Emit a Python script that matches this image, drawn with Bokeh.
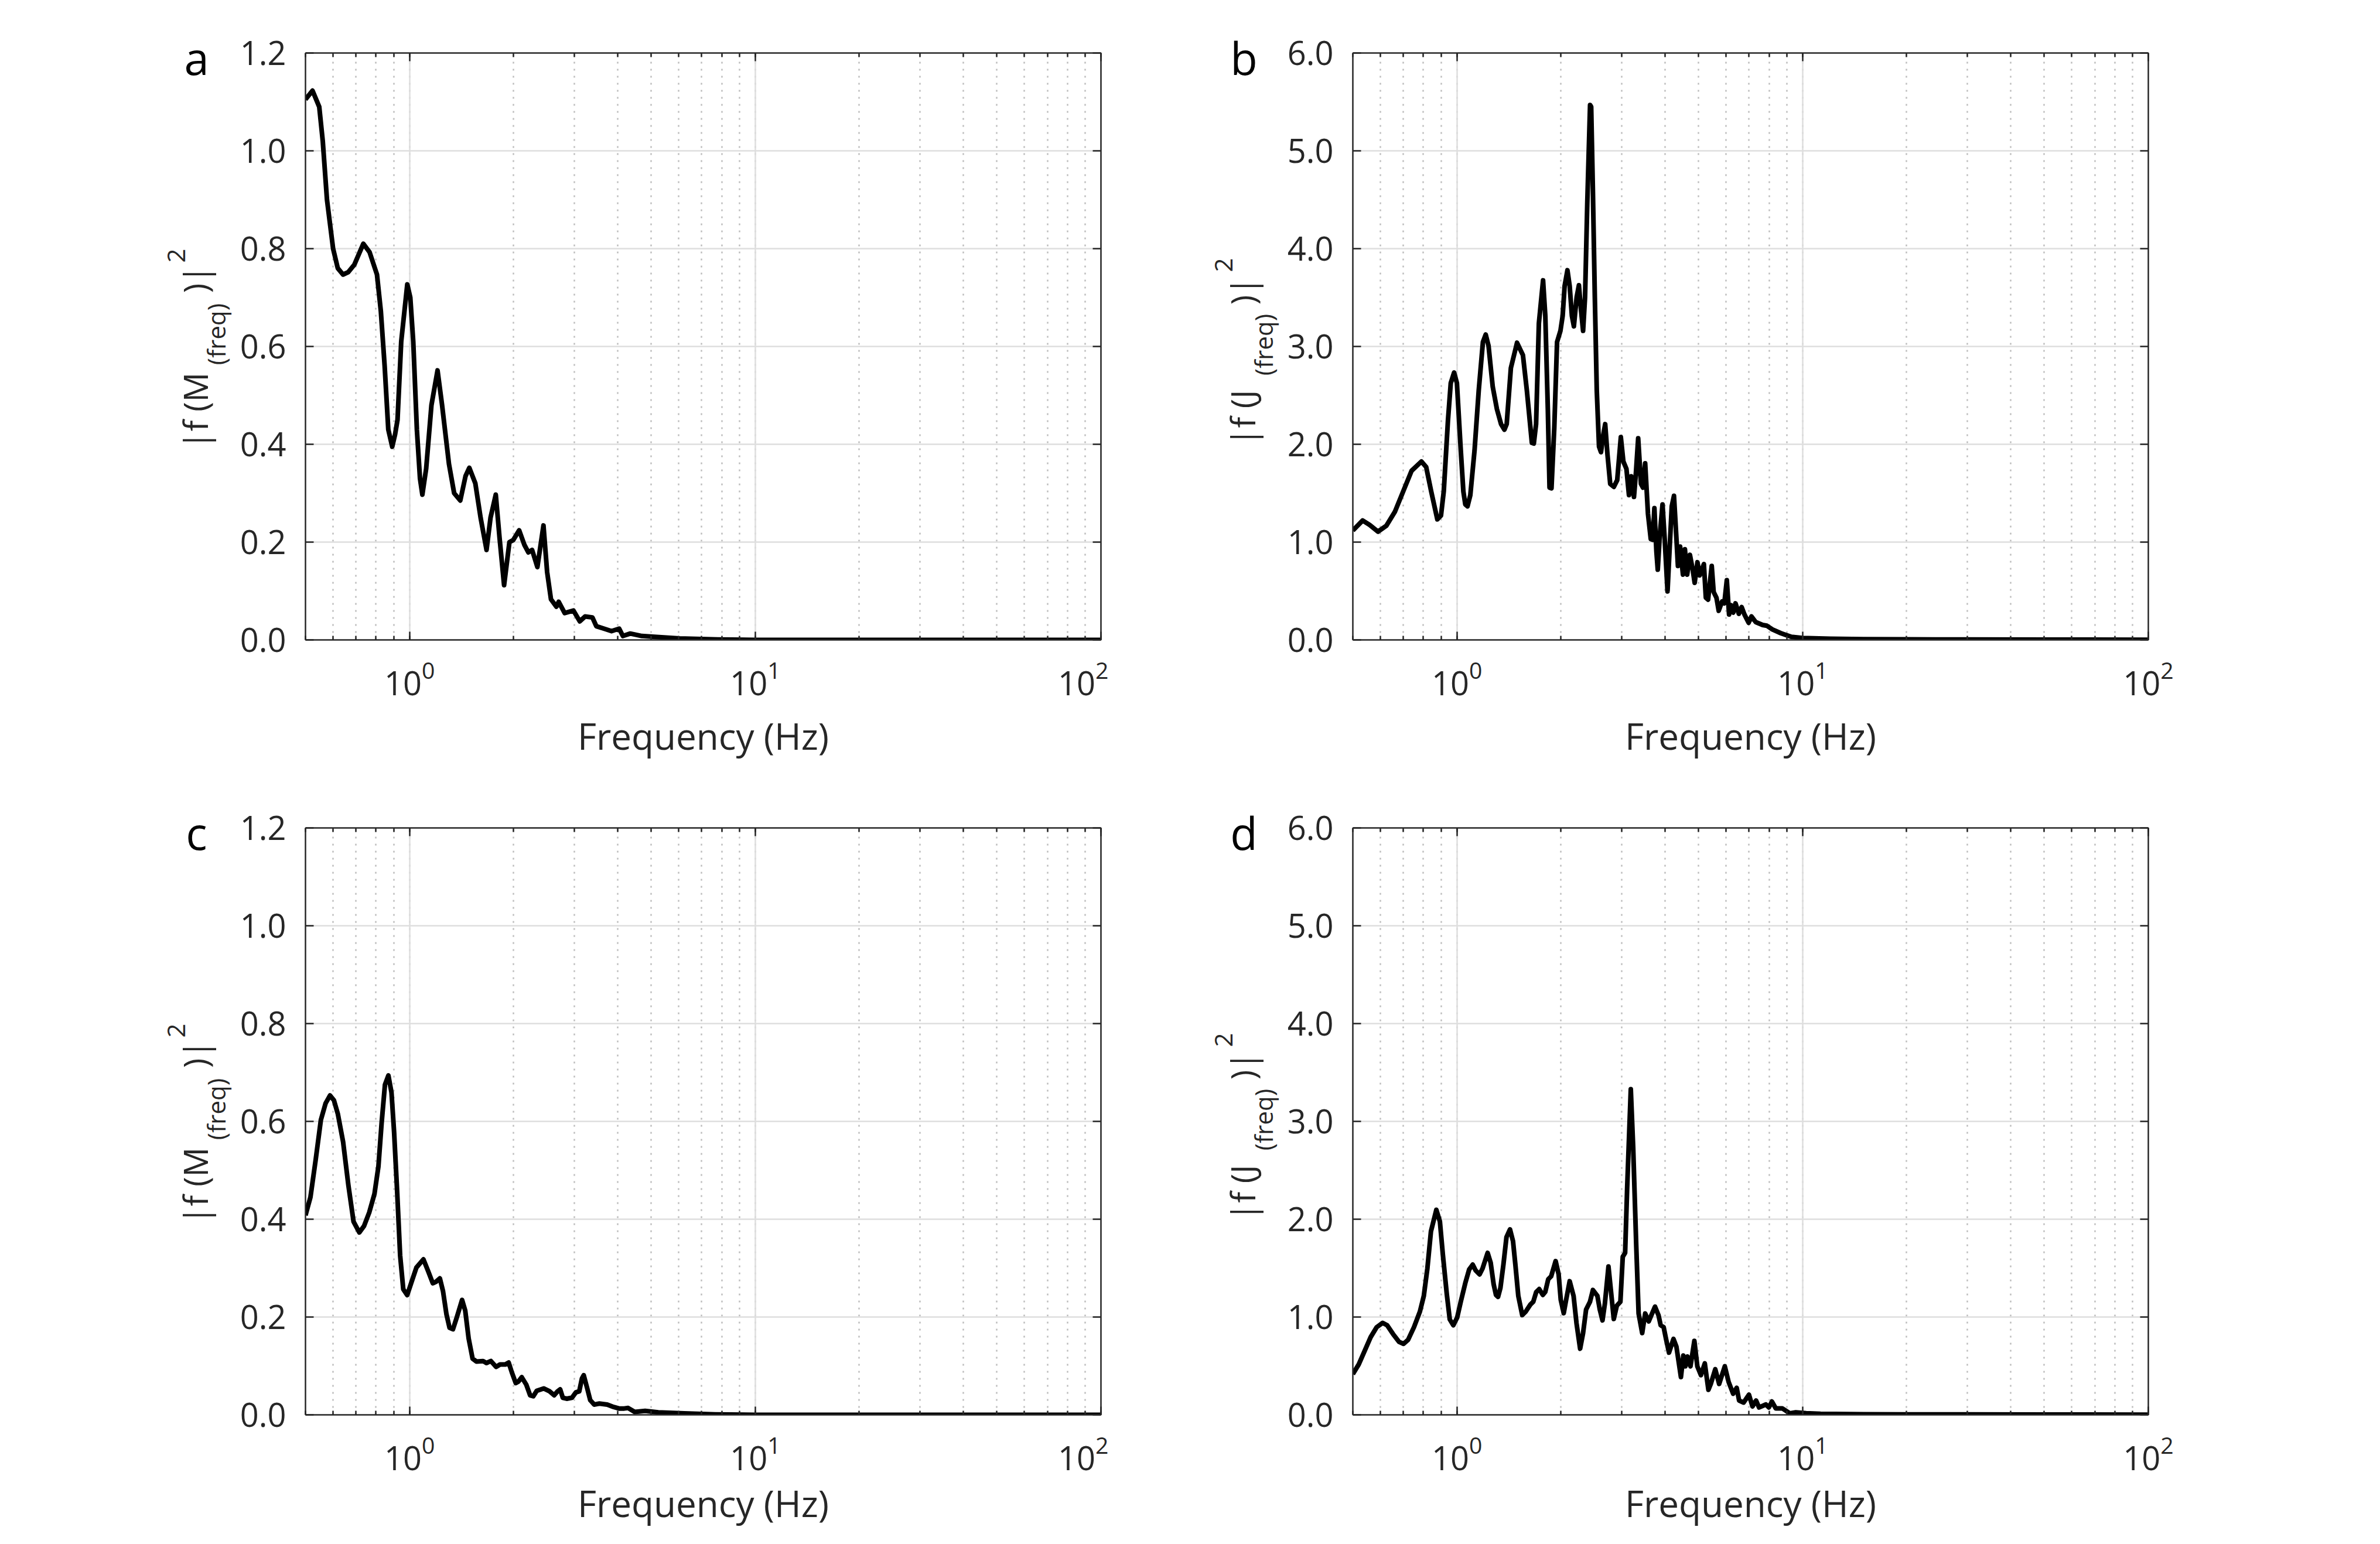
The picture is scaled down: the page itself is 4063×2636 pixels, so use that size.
import math
from bokeh.plotting import figure
from bokeh.models import (Range1d, LogTicker, FixedTicker, LinearAxis, LogAxis,
                          NumeralTickFormatter, CustomJSTickFormatter)
from bokeh.core.properties import value
from bokeh.layouts import column, row
from bokeh.embed import file_html
from bokeh.resources import INLINE

# ---------------- data ----------------
freq_a = [0.5, 0.524, 0.548, 0.561, 0.577, 0.601, 0.62, 0.642, 0.665, 0.692, 0.735, 0.766,
          0.805, 0.826, 0.847, 0.868, 0.891, 0.908, 0.923, 0.946, 0.985, 1.005, 1.025, 1.05,
          1.072, 1.089, 1.117, 1.157, 1.205, 1.242, 1.30, 1.346, 1.402, 1.452, 1.489, 1.55,
          1.605, 1.67, 1.715, 1.776, 1.821, 1.877, 1.945, 1.994, 2.075, 2.15, 2.207, 2.262,
          2.343, 2.44, 2.50, 2.565, 2.658, 2.70, 2.81, 2.98, 3.107, 3.22, 3.38, 3.47, 3.65,
          3.84, 4.04, 4.14, 4.35, 4.7, 5.2, 6.04, 7.8, 10.0, 20.0, 50.0, 100.0]
power_a = [1.105, 1.123, 1.09, 1.02, 0.90, 0.80, 0.76, 0.747, 0.752, 0.767, 0.81, 0.793,
           0.747, 0.672, 0.561, 0.43, 0.395, 0.42, 0.45, 0.61, 0.727, 0.70, 0.61, 0.43,
           0.33, 0.297, 0.35, 0.48, 0.551, 0.48, 0.36, 0.30, 0.285, 0.335, 0.352, 0.32,
           0.25, 0.184, 0.25, 0.297, 0.209, 0.112, 0.20, 0.204, 0.224, 0.194, 0.179, 0.184,
           0.149, 0.234, 0.139, 0.083, 0.068, 0.078, 0.055, 0.06, 0.038, 0.048, 0.046, 0.028, 0.023,
           0.018, 0.023, 0.008, 0.013, 0.008, 0.006, 0.003, 0.001, 0.0, 0.0, 0.0, 0.0]

freq_b = [0.5, 0.5337, 0.5591, 0.5911, 0.6253, 0.6613, 0.6994, 0.7394, 0.7895, 0.8149, 0.8425,
          0.8777, 0.8993, 0.9162, 0.9421, 0.9598, 0.9815, 1.0, 1.0245, 1.0438, 1.0575, 1.0733,
          1.0935, 1.1247, 1.1564, 1.1891, 1.2115, 1.2343, 1.2694, 1.3053, 1.342, 1.3723, 1.3931,
          1.4324, 1.4925, 1.5522, 1.5934, 1.6475, 1.6692, 1.6943, 1.7262, 1.7751, 1.8018, 1.8323,
          1.853, 1.8774, 1.9127, 1.9484, 1.9928, 2.0225, 2.0492, 2.0878, 2.1193, 2.1509, 2.1793,
          2.2203, 2.2538, 2.2831, 2.3173, 2.3478, 2.3826, 2.4275, 2.4456, 2.4731, 2.5057, 2.5384,
          2.5766, 2.6106, 2.6495, 2.6845, 2.725, 2.7763, 2.8443, 2.9086, 2.9797, 3.0303, 3.0929,
          3.1453, 3.1918, 3.252, 3.2949, 3.3446, 3.4076, 3.4518, 3.5038, 3.5698, 3.637, 3.6843,
          3.7261, 3.7753, 3.8103, 3.8606, 3.9332, 3.9917, 4.0668, 4.1205, 4.1827, 4.2451, 4.3171,
          4.3581, 4.4228, 4.5061, 4.5656, 4.6345, 4.7206, 4.8084, 4.8719, 4.9637, 5.0385, 5.1809,
          5.2493, 5.3271, 5.4587, 5.5296, 5.6337, 5.7186, 5.8479, 5.9362, 6.0358, 6.1268, 6.2079,
          6.3013, 6.395, 6.5396, 6.6628, 6.7883, 6.9803, 7.1118, 7.3141, 7.6622, 7.8785, 8.1772,
          8.648, 9.2813, 10.0, 12.0, 15.0, 20.0, 30.0, 50.0, 100.0]
power_b = [1.118, 1.221, 1.176, 1.107, 1.168, 1.309, 1.519, 1.729, 1.824, 1.767, 1.519,
           1.233, 1.271, 1.519, 2.244, 2.626, 2.733, 2.626, 1.977, 1.519, 1.385, 1.366,
           1.481, 1.939, 2.55, 3.046, 3.122, 3.008, 2.588, 2.359, 2.206, 2.149, 2.206,
           2.779, 3.038, 2.912, 2.55, 2.015, 2.008, 2.206, 3.237, 3.676, 3.313, 2.359,
           1.557, 1.55, 2.168, 3.046, 3.16, 3.313, 3.618, 3.779, 3.618, 3.313, 3.206,
           3.504, 3.626, 3.389, 3.16, 3.504, 4.458, 5.469, 5.45, 4.611, 3.504, 2.55,
           1.977, 1.92, 2.092, 2.206, 1.901, 1.595, 1.565, 1.634, 2.073, 1.824, 1.748,
           1.481, 1.672, 1.462, 1.71, 2.061, 1.595, 1.557, 1.805, 1.29, 1.031, 1.023,
           1.347, 0.908, 0.718, 1.061, 1.385, 1.023, 0.496, 0.908, 1.366, 1.473, 1.023,
           0.756, 0.954, 0.668, 0.927, 0.668, 0.87, 0.718, 0.584, 0.794, 0.66, 0.775,
           0.431, 0.412, 0.756, 0.489, 0.431, 0.298, 0.393, 0.374, 0.611, 0.26, 0.355,
           0.279, 0.374, 0.267, 0.336, 0.26, 0.176, 0.24, 0.183, 0.153, 0.145, 0.107,
           0.069, 0.031, 0.02, 0.012, 0.008, 0.006, 0.004, 0.003, 0.002]

freq_c = [0.5, 0.5168, 0.535, 0.554, 0.5717, 0.5888, 0.6044, 0.6204, 0.6424, 0.6652, 0.6887,
          0.7157, 0.7385, 0.7646, 0.7917, 0.8128, 0.8301, 0.8489, 0.8685, 0.8867, 0.9024,
          0.9214, 0.9392, 0.959, 0.9845, 1.0105, 1.0464, 1.0967, 1.1316, 1.1676, 1.1923,
          1.2237, 1.2496, 1.2784, 1.3053, 1.3354, 1.3707, 1.4191, 1.4491, 1.4825, 1.5216,
          1.5618, 1.6315, 1.6688, 1.7188, 1.78, 1.827, 1.892, 1.9352, 1.9762, 2.0284, 2.0642,
          2.1114, 2.1751, 2.2324, 2.2797, 2.3318, 2.4434, 2.5432, 2.6199, 2.6797, 2.727,
          2.7752, 2.8485, 2.9493, 3.0276, 3.0967, 3.1513, 3.19, 3.2629, 3.3319, 3.4198,
          3.5415, 3.7313, 3.8973, 4.0351, 4.1783, 4.2891, 4.4797, 4.8019, 5.2409, 6.2373,
          7.6614, 10.0, 20.0, 50.0, 100.0]
power_c = [0.408, 0.445, 0.521, 0.603, 0.637, 0.653, 0.643, 0.615, 0.558, 0.47, 0.395,
           0.373, 0.386, 0.414, 0.452, 0.508, 0.596, 0.675, 0.694, 0.659, 0.577,
           0.452, 0.326, 0.257, 0.245, 0.269, 0.301, 0.318, 0.294, 0.269, 0.272,
           0.279, 0.253, 0.206, 0.178, 0.175, 0.2, 0.235, 0.213, 0.156, 0.115,
           0.109, 0.11, 0.106, 0.11, 0.098, 0.103, 0.103, 0.107, 0.087, 0.065, 0.068,
           0.077, 0.062, 0.04, 0.038, 0.049, 0.054, 0.048, 0.04, 0.048, 0.052,
           0.035, 0.033, 0.035, 0.046, 0.048, 0.074, 0.081, 0.055, 0.03, 0.021,
           0.023, 0.021, 0.016, 0.013, 0.013, 0.014, 0.006, 0.008, 0.005, 0.003,
           0.001, 0.0, 0.0, 0.0, 0.0]

freq_d = [0.5, 0.52, 0.5413, 0.5632, 0.586, 0.6097, 0.6282, 0.6536, 0.6801, 0.7008, 0.722,
          0.7512, 0.7816, 0.8021, 0.8214, 0.8412, 0.8719, 0.8929, 0.9108, 0.9347, 0.9535,
          0.9763, 1.002, 1.026, 1.059, 1.085, 1.111, 1.133, 1.163, 1.186, 1.227, 1.252,
          1.277, 1.297, 1.315, 1.336, 1.363, 1.391, 1.424, 1.453, 1.476, 1.505, 1.545,
          1.582, 1.63, 1.663, 1.696, 1.73, 1.772, 1.801, 1.837, 1.873, 1.93, 1.969, 1.997,
          2.037, 2.07, 2.119, 2.175, 2.218, 2.272, 2.317, 2.364, 2.426, 2.474, 2.549, 2.59,
          2.637, 2.679, 2.744, 2.788, 2.843, 2.901, 2.971, 3.018, 3.066, 3.109, 3.184, 3.235,
          3.301, 3.354, 3.435, 3.504, 3.588, 3.741, 3.831, 3.885, 3.963, 4.026, 4.107, 4.231,
          4.315, 4.446, 4.518, 4.581, 4.645, 4.738, 4.862, 4.96, 5.08, 5.212, 5.339, 5.424,
          5.589, 5.735, 5.955, 6.109, 6.295, 6.447, 6.551, 6.75, 6.995, 7.161, 7.334, 7.482,
          7.832, 7.989, 8.149, 8.363, 8.736, 9.181, 9.553, 10.24, 11.27, 15.0, 20.0, 30.0,
          50.0, 100.0]
power_d = [0.416, 0.516, 0.656, 0.796, 0.896, 0.94, 0.916, 0.826, 0.746, 0.726, 0.766,
           0.896, 1.056, 1.216, 1.496, 1.876, 2.096, 1.976, 1.636, 1.236, 0.976,
           0.916, 0.996, 1.156, 1.356, 1.486, 1.536, 1.476, 1.436, 1.496, 1.656, 1.556,
           1.336, 1.226, 1.206, 1.296, 1.536, 1.816, 1.896, 1.776, 1.536, 1.216, 1.02,
           1.056, 1.126, 1.156, 1.256, 1.286, 1.226, 1.256, 1.386, 1.416, 1.572, 1.436, 1.176,
           1.04, 1.176, 1.366, 1.216, 0.936, 0.676, 0.836, 1.076, 1.156, 1.276, 1.216, 1.076,
           0.966, 1.136, 1.516, 1.276, 0.98, 1.116, 1.156, 1.616, 1.656, 2.336, 3.33, 2.736,
           1.736, 1.036, 0.836, 1.036, 0.956, 1.106, 1.016, 0.916, 0.896, 0.776, 0.636, 0.776,
           0.696, 0.386, 0.606, 0.496, 0.596, 0.496, 0.756, 0.496, 0.406, 0.526, 0.256, 0.316,
           0.466, 0.316, 0.496, 0.336, 0.216, 0.276, 0.146, 0.126, 0.206, 0.086, 0.146, 0.076,
           0.106, 0.076, 0.136, 0.066, 0.066, 0.016, 0.026, 0.016, 0.01, 0.006, 0.005, 0.004,
           0.003, 0.002]

x_limits = [0.5, 100.0]
ticks_m = [0.0, 0.2, 0.4, 0.6, 0.8, 1.0, 1.2]
ticks_j = [0.0, 1.0, 2.0, 3.0, 4.0, 5.0, 6.0]
x_label = "Frequency (Hz)"
panel_letters = ["a", "b", "c", "d"]
symbols = ["M", "J", "M", "J"]

# ---------------- styling / layout ----------------
FONT = "Open Sans"
TXT = "#262626"
FRAME_W, FRAME_H = 1359, 1002
FIG_H = 1310
P_LEFT = 114                    # border left of each panel (tick labels)
LAB1_W = 528 - 8 - P_LEFT       # text strip left of column 1
P1_RIGHT = 13
LAB2_W = 2316 - (8 + LAB1_W + P_LEFT + FRAME_W + P1_RIGHT) - P_LEFT
P2_RIGHT = 380

# y-label pieces: (text, font px, x of box centre from frame left,
#                  y of box centre measured upward from the frame centre)
YLABEL_PIECES = {
    "M": [("|f (M", 56, -188, -110), ("(freq)", 42, -152, 21),
          (")|", 56, -188, 115), ("2", 42, -220, 155)],
    "J": [("|f (J", 56, -188, -122), ("(freq)", 42, -152, 3),
          (")|", 56, -188, 95), ("2", 42, -220, 139)],
}


def make_strip(width, letter, sym, b_top):
    """Narrow text-only figure holding the panel letter and the y-axis label."""
    s = figure(width=width, height=FIG_H, x_range=Range1d(0, width), y_range=Range1d(0, FIG_H),
               output_backend="svg", toolbar_location=None, title=None,
               x_axis_location=None, y_axis_location=None, min_border=0,
               frame_align=False,
               background_fill_color="white", border_fill_color="white")
    s.outline_line_color = None
    s.grid.visible = False
    frame_left = width + P_LEFT          # x of the panel frame in strip coords
    frame_top = FIG_H - b_top            # y (upwards) of the panel frame top
    s.text(x=[frame_left - 185], y=[frame_top - 8], text=[letter],
           text_font=value(FONT), text_font_size=value("76px"), text_color="black",
           text_align="center", text_baseline="middle")
    cy = frame_top - FRAME_H / 2
    for t, sz, bx, dy in YLABEL_PIECES[sym]:
        s.text(x=[frame_left + bx], y=[cy + dy], text=[t], angle=math.pi / 2,
               text_font=value(FONT), text_font_size=value(f"{sz}px"), text_color=TXT,
               text_align="center", text_baseline="middle")
    return s


def style_axis(ax):
    ax.axis_line_color = TXT
    ax.axis_line_width = 2.5
    ax.major_tick_line_color = TXT
    ax.major_tick_line_width = 2.5
    ax.minor_tick_line_color = TXT
    ax.minor_tick_line_width = 2.5
    ax.major_tick_in = 14
    ax.major_tick_out = 0
    ax.minor_tick_in = 7
    ax.minor_tick_out = 0
    ax.major_label_text_font = FONT
    ax.major_label_text_font_size = "56px"
    ax.major_label_text_color = TXT


def make_panel(freq, power, y_ticks, b_right, b_top, b_bottom, label_standoff):
    width = P_LEFT + FRAME_W + b_right
    p = figure(width=width, height=FIG_H, x_axis_type="log",
               x_range=Range1d(x_limits[0], x_limits[1]),
               y_range=Range1d(y_ticks[0], y_ticks[-1]),
               output_backend="svg", toolbar_location=None, title=None,
               min_border_left=P_LEFT, min_border_right=b_right,
               min_border_top=b_top, min_border_bottom=b_bottom,
               background_fill_color="white", border_fill_color="white")
    p.outline_line_color = None

    xt = LogTicker(num_minor_ticks=10)
    yt = FixedTicker(ticks=y_ticks)

    xa = p.xaxis[0]
    xa.ticker = xt
    style_axis(xa)
    xa.major_label_standoff = 36
    xa.axis_label = x_label
    xa.axis_label_text_font = FONT
    xa.axis_label_text_font_size = "62px"
    xa.axis_label_text_font_style = "normal"
    xa.axis_label_text_color = TXT
    xa.axis_label_standoff = label_standoff

    ya = p.yaxis[0]
    ya.ticker = yt
    ya.formatter = NumeralTickFormatter(format="0.0")
    style_axis(ya)
    ya.major_label_standoff = 33

    blank = "return ''"
    top = LogAxis(ticker=xt, formatter=CustomJSTickFormatter(code=blank))
    style_axis(top)
    top.major_label_standoff = 0
    top.major_label_text_font_size = "1px"
    p.add_layout(top, "above")
    right = LinearAxis(ticker=yt, formatter=CustomJSTickFormatter(code=blank))
    style_axis(right)
    right.major_label_standoff = 0
    right.major_label_text_font_size = "1px"
    p.add_layout(right, "right")

    p.xgrid.ticker = xt
    p.xgrid.grid_line_color = "#dedede"
    p.xgrid.grid_line_width = 2.5
    p.xgrid.minor_grid_line_color = "#bdbdbd"
    p.xgrid.minor_grid_line_width = 2.5
    p.xgrid.minor_grid_line_dash = "3 9"
    p.ygrid.ticker = yt
    p.ygrid.grid_line_color = "#dedede"
    p.ygrid.grid_line_width = 2.5

    p.line(freq, power, line_color="black", line_width=8, line_join="round")
    return p


sa = make_strip(LAB1_W, panel_letters[0], symbols[0], 90)
pa = make_panel(freq_a, power_a, ticks_m, P1_RIGHT, 90, 218, 24)
sb = make_strip(LAB2_W, panel_letters[1], symbols[1], 90)
pb = make_panel(freq_b, power_b, ticks_j, P2_RIGHT, 90, 218, 24)
sc = make_strip(LAB1_W, panel_letters[2], symbols[2], 103)
pc = make_panel(freq_c, power_c, ticks_m, P1_RIGHT, 103, 205, 11)
sd = make_strip(LAB2_W, panel_letters[3], symbols[3], 103)
pd = make_panel(freq_d, power_d, ticks_j, P2_RIGHT, 103, 205, 11)

layout = column(row(sa, pa, sb, pb), row(sc, pc, sd, pd))
open("out.html", "w").write(file_html(layout, INLINE))
